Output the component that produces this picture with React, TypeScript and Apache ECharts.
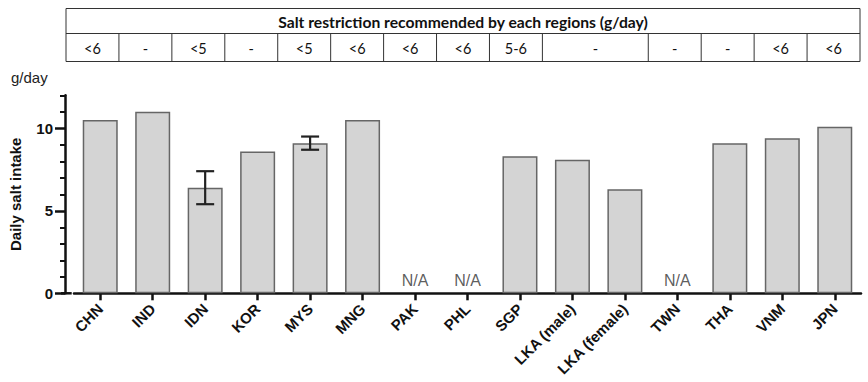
import React, { useEffect, useRef } from "react";
import * as echarts from "echarts";

const categories = ["CHN", "IND", "IDN", "KOR", "MYS", "MNG", "PAK", "PHL", "SGP", "LKA (male)", "LKA (female)", "TWN", "THA", "VNM", "JPN"];
const intake: (number | null)[] = [10.5, 11.0, 6.4, 8.6, 9.1, 10.5, null, null, 8.3, 8.1, 6.3, null, 9.1, 9.4, 10.1];
const errLow: (number | null)[] = [null, null, 5.4, null, 8.7, null, null, null, null, null, null, null, null, null, null];
const errHigh: (number | null)[] = [null, null, 7.4, null, 9.5, null, null, null, null, null, null, null, null, null, null];
const yMajorTicks = [0, 5, 10];
const yMinorTicks = [1, 2, 3, 4, 6, 7, 8, 9, 11, 12];
const tableTitle = "Salt restriction recommended by each regions (g/day)";
const tableLabels = ["<6", "-", "<5", "-", "<5", "<6", "<6", "<6", "5-6", "-", "-", "-", "<6", "<6"];
const tableSpans = [1, 1, 1, 1, 1, 1, 1, 1, 1, 2, 1, 1, 1, 1];

const FONT = "'Liberation Sans', Arial, sans-serif";
const TFONT = "Lato";

const GRID_LEFT = 70.7;
const GRID_RIGHT_EDGE = 861;
const GRID_TOP = 95.3;
const GRID_HEIGHT = 198;

export default function App() {
  const ref = useRef<HTMLDivElement>(null);
  useEffect(() => {
    document.body.style.margin = "0";
    const chart = echarts.init(ref.current!, null, { renderer: "svg" });

    const errData: number[][] = [];
    intake.forEach((_, i) => {
      if (errLow[i] != null && errHigh[i] != null) errData.push([i, errLow[i] as number, errHigh[i] as number]);
    });
    const naData: number[][] = [];
    intake.forEach((v, i) => {
      if (v == null) naData.push([i, 0]);
    });

    const tLeft = 66, tRight = 860, tTop = 8.5, tMid = 33.5, tBottom = 61.5;
    const totalUnits = tableSpans.reduce((a, b) => a + b, 0);
    const unit = (tRight - tLeft) / totalUnits;
    const lineStyle = { stroke: "#333", lineWidth: 1 };
    const graphics: any[] = [
      { type: "rect", shape: { x: tLeft, y: tTop, width: tRight - tLeft, height: tBottom - tTop }, style: { fill: "none", ...lineStyle } },
      { type: "line", shape: { x1: tLeft, y1: tMid, x2: tRight, y2: tMid }, style: lineStyle },
      {
        type: "text",
        x: (tLeft + tRight) / 2,
        y: (tTop + tMid) / 2 + 0.5,
        style: {
          text: tableTitle,
          fontFamily: TFONT,
          fontWeight: "bold",
          fontSize: 15.7,
          fill: "#111",
          align: "center",
          verticalAlign: "middle",
        },
      },
    ];
    let acc = 0;
    tableLabels.forEach((lab, i) => {
      const x0 = tLeft + acc * unit;
      const x1 = x0 + tableSpans[i] * unit;
      if (i > 0) graphics.push({ type: "line", shape: { x1: x0, y1: tMid, x2: x0, y2: tBottom }, style: lineStyle });
      graphics.push({
        type: "text",
        x: (x0 + x1) / 2,
        y: (tMid + tBottom) / 2 + 0.5,
        style: { text: lab, fontFamily: TFONT, fontSize: 14.5, fill: "#111", align: "center", verticalAlign: "middle" },
      });
      acc += tableSpans[i];
    });
    graphics.push({
      type: "text",
      x: 11,
      y: 77,
      style: { text: "g/day", fontFamily: FONT, fontSize: 15, fill: "#222", verticalAlign: "middle" },
    });
    const zeroY = GRID_TOP + GRID_HEIGHT;
    graphics.push({
      type: "line",
      shape: { x1: 61, y1: zeroY, x2: GRID_LEFT + 1, y2: zeroY },
      style: { stroke: "#111", lineWidth: 2.5 },
    });

    chart.setOption({
      animation: false,
      grid: { left: GRID_LEFT, top: GRID_TOP, width: GRID_RIGHT_EDGE - GRID_LEFT, height: GRID_HEIGHT },
      xAxis: {
        type: "category",
        data: categories,
        axisLine: { show: true, lineStyle: { color: "#111", width: 2.5 } },
        axisTick: { show: true, alignWithLabel: true, length: 7, lineStyle: { color: "#111", width: 2.5 } },
        axisLabel: { rotate: 45, fontFamily: FONT, fontWeight: "bold", fontSize: 15, color: "#111", margin: 13, interval: 0 },
      },
      yAxis: [
        {
          type: "value",
          min: 0,
          max: 12,
          offset: 9,
          name: "Daily salt intake",
          nameLocation: "middle",
          nameRotate: 90,
          nameGap: 42,
          nameTextStyle: { fontFamily: FONT, fontWeight: "bold", fontSize: 15, color: "#111" },
          axisLine: { show: true, lineStyle: { color: "#111", width: 2.5 } },
          axisTick: { show: true, customValues: yMajorTicks, length: 10, lineStyle: { color: "#111", width: 2.5 } },
          axisLabel: { customValues: yMajorTicks, fontFamily: FONT, fontWeight: "bold", fontSize: 15, color: "#111", margin: 12 },
          splitLine: { show: false },
        },
        {
          type: "value",
          min: 0,
          max: 12,
          offset: 9,
          position: "left",
          axisLine: { show: false },
          axisTick: { show: true, customValues: yMinorTicks, length: 5, lineStyle: { color: "#111", width: 2 } },
          axisLabel: { show: false },
          splitLine: { show: false },
        },
      ],
      series: [
        {
          type: "bar",
          data: intake,
          barWidth: 35,
          itemStyle: { color: "#d4d4d4", borderColor: "#666", borderWidth: 1.5 },
        },
        {
          type: "custom",
          data: errData,
          z: 5,
          renderItem: (params: any, api: any) => {
            const x = api.value(0);
            const lo = api.coord([x, api.value(1)]);
            const hi = api.coord([x, api.value(2)]);
            const hw = 9;
            const st = { stroke: "#222", lineWidth: 2.2 };
            return {
              type: "group",
              children: [
                { type: "line", shape: { x1: lo[0], y1: lo[1], x2: hi[0], y2: hi[1] }, style: st },
                { type: "line", shape: { x1: hi[0] - hw, y1: hi[1], x2: hi[0] + hw, y2: hi[1] }, style: st },
                { type: "line", shape: { x1: lo[0] - hw, y1: lo[1], x2: lo[0] + hw, y2: lo[1] }, style: st },
              ],
            };
          },
        },
        {
          type: "scatter",
          data: naData,
          symbolSize: 0,
          label: { show: true, formatter: "N/A", position: "top", distance: 5, fontFamily: FONT, fontSize: 16, color: "#333" },
        },
      ],
      graphic: graphics,
    });
    return () => chart.dispose();
  }, []);
  return <div ref={ref} style={{ width: 868, height: 382 }} />;
}
